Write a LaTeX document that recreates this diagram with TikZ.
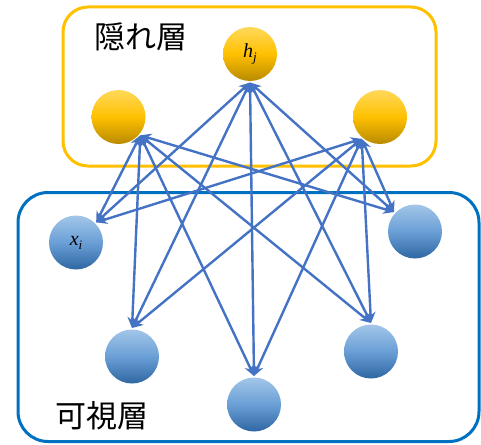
\documentclass[tikz,border=0pt]{standalone}
\usepackage{fontspec}
\newfontfamily\jpfont{Noto Sans CJK JP}
\newfontfamily\tnrfont{Liberation Serif}
\usetikzlibrary{arrows.meta}
\definecolor{edgeblue}{HTML}{4472C4}
\definecolor{boxorange}{HTML}{FFC000}
\definecolor{boxblue}{HTML}{0070C0}
\definecolor{otop}{HTML}{FFD95A}
\definecolor{omid}{HTML}{FFC000}
\definecolor{obot}{HTML}{B88A00}
\definecolor{btop}{HTML}{A2C6E8}
\definecolor{bmid}{HTML}{6A9FD6}
\definecolor{bbot}{HTML}{2F67A3}
\newcommand{\varlabel}[2]{{\tnrfont\itshape\fontsize{20}{20}\selectfont #1\raisebox{-4pt}{\fontsize{13}{13}\selectfont #2}}}
\begin{document}
\begin{tikzpicture}[x=1pt,y=-1pt,
  hid/.style={circle,minimum size=54pt,inner sep=0pt,outer sep=1.5pt,
    top color=otop,bottom color=obot,middle color=omid},
  vis/.style={circle,minimum size=54pt,inner sep=0pt,outer sep=1.5pt,
    top color=btop,bottom color=bbot,middle color=bmid},
  conn/.style={draw=edgeblue,line width=2.4pt,
    {Stealth[length=11pt,width=10pt]}-{Stealth[length=11pt,width=10pt]}},
  layerbox/.style={rounded corners=25pt,line width=3pt},
  lbl/.style={font=\jpfont\fontsize{31}{34}\selectfont}]
\useasboundingbox (0,0) rectangle (481,444);
% layer boxes
\node[draw=boxorange,layerbox,minimum width=373pt,minimum height=159pt] (hbox) at (249.5,86.5) {};
\node[draw=boxblue,layerbox,rounded corners=30pt,minimum width=461pt,minimum height=249pt] (vbox) at (248.5,317) {};
\node[lbl] (hlabel) at (141,37) {隠れ層};
\node[lbl] (vlabel) at (102,416) {可視層};
% hidden units
\node[hid] (hj) at (250,54) {\varlabel{h}{j}};
\node[hid] (hl) at (118.5,117) {};
\node[hid] (hr) at (380,117) {};
% visible units
\node[vis] (xi) at (76,242.5) {\varlabel{x}{i}};
\node[vis] (vr) at (415,231.5) {};
\node[vis] (vl) at (132,356.5) {};
\node[vis] (vb) at (254,404.5) {};
\node[vis] (vlr) at (371,351.5) {};
% anchor points
\coordinate (Phj) at (hj.-90);
\coordinate (Phl) at (hl.-40);
\coordinate (Phr) at (hr.-130);
\coordinate (Pxi) at (xi.45);
\coordinate (Pvr) at (vr.137);
\coordinate (Pvl) at (vl.90);
\coordinate (Pvb) at (vb.90);
\coordinate (Pvlr) at (vlr.90);
% connections
\foreach \h in {Phj,Phl,Phr}{
  \foreach \v in {Pxi,Pvr,Pvl,Pvb,Pvlr}{
    \draw[conn] (\h) -- (\v);
  }
}
\end{tikzpicture}
\end{document}
